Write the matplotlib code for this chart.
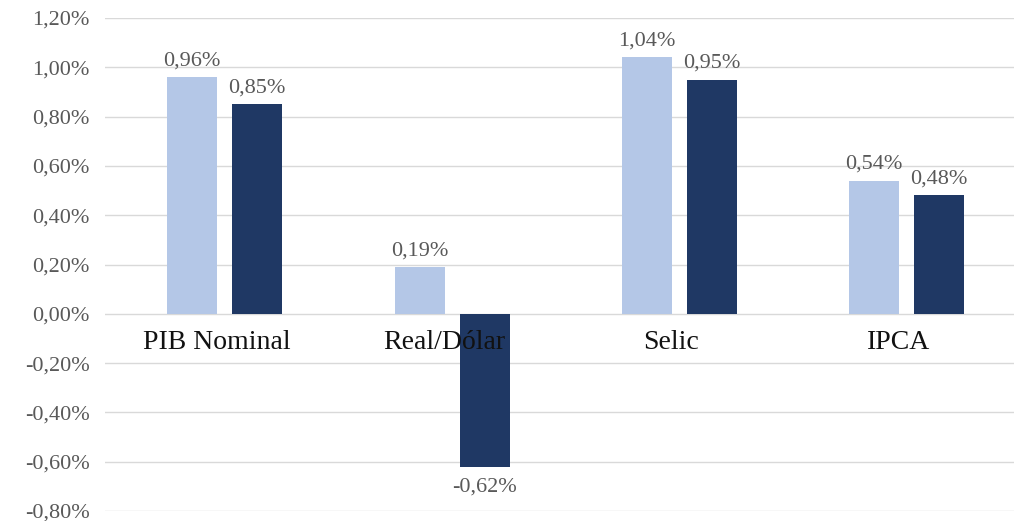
import matplotlib.pyplot as plt
from matplotlib.ticker import FuncFormatter

categories = ['PIB Nominal', 'Real/Dólar', 'Selic', 'IPCA']
serie_a = [0.96, 0.19, 1.04, 0.54]
serie_b = [0.85, -0.62, 0.95, 0.48]
yticks = [-0.80, -0.60, -0.40, -0.20, 0.0, 0.20, 0.40, 0.60, 0.80, 1.00, 1.20]

LIGHT = '#b4c7e7'
DARK = '#1f3864'
GREY = '#595959'

plt.rcParams['font.family'] = ['Liberation Serif', 'DejaVu Serif']


def pct(v, pos=None):
    return ('%.2f%%' % v).replace('.', ',')


fig = plt.figure(figsize=(10.14, 5.21), dpi=100)
ax = fig.add_axes([105 / 1014, 1 - 511 / 521, 909 / 1014, (511 - 18) / 521])

x = list(range(len(categories)))
w = 0.22
off = 0.143
xa = [i - off for i in x]
xb = [i + off for i in x]
ax.bar(xa, serie_a, width=w, color=LIGHT, zorder=2)
ax.bar(xb, serie_b, width=w, color=DARK, zorder=2)

# value labels above positive bars, below negative ones
for xs, vals in ((xa, serie_a), (xb, serie_b)):
    for xi, v in zip(xs, vals):
        if v >= 0:
            ax.text(xi, v + 0.028, pct(v), ha='center', va='bottom',
                    fontsize=16, color=GREY)
        else:
            ax.text(xi, v - 0.045, pct(v), ha='center', va='top',
                    fontsize=16, color=GREY)

# category names sit just under the zero line
for i, name in enumerate(categories):
    ax.text(i - 0.035, -0.118, name, ha='center', va='center',
            fontsize=20, color='#111111', zorder=3)

ax.set_xlim(-0.527, 3.473)
ax.set_ylim(-0.80, 1.20)
ax.set_yticks(yticks)
ax.yaxis.set_major_formatter(FuncFormatter(pct))
ax.set_xticks([])
ax.tick_params(axis='y', length=0, pad=11, labelsize=16, labelcolor=GREY)
ax.grid(axis='y', color='#d9d9d9', linewidth=1, zorder=0)
for s in ax.spines.values():
    s.set_visible(False)

fig.savefig('out.png', dpi=100)
